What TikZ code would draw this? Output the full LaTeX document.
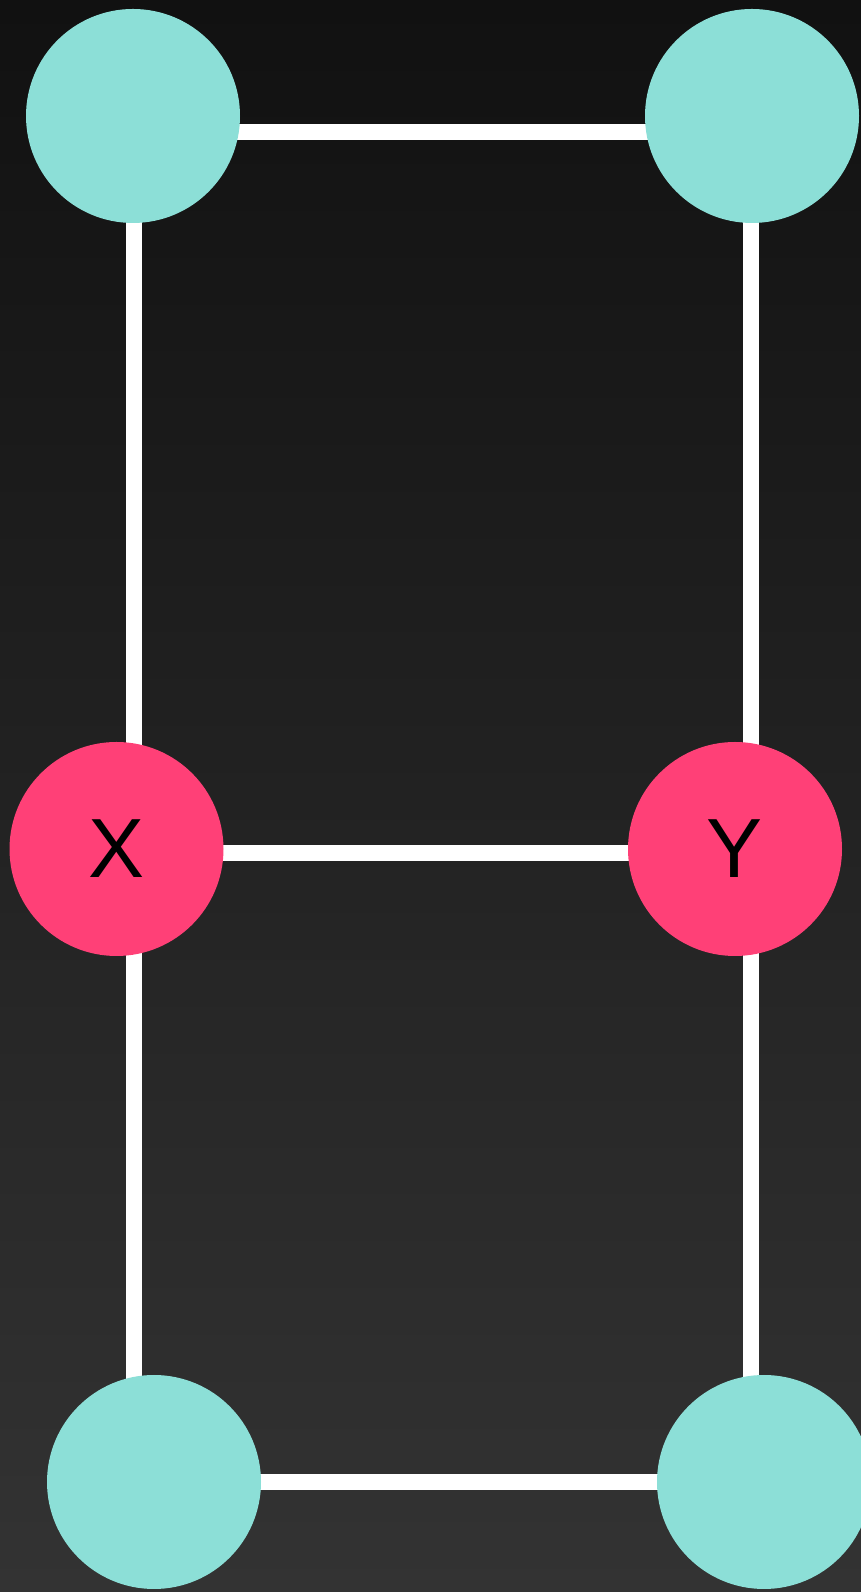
\documentclass[tikz,border=0pt]{standalone}
\usepackage{fontspec}
\setmainfont{Liberation Sans}
\definecolor{bgtop}{HTML}{111111}
\definecolor{bgbottom}{HTML}{333333}
\definecolor{mint}{HTML}{8CDFD7}
\definecolor{rose}{HTML}{FF4077}
\tikzset{
	vertex/.style={circle,minimum size=214pt,inner sep=0pt,fill=mint},
	marked/.style={vertex,fill=rose,font=\fontsize{84}{84}\selectfont},
	rung/.style={draw=white,line width=16pt}
}
\begin{document}
\begin{tikzpicture}[x=1pt,y=1pt]
				\useasboundingbox (0,0) rectangle (861,1592);
				\shade[top color=bgtop,bottom color=bgbottom] (0,0) rectangle (861,1592);
				% ladder corners
				\coordinate (lt) at (134,1460);
				\coordinate (rt) at (751,1460);
				\coordinate (lm) at (134,738.5);
				\coordinate (rm) at (751,738.5);
				\coordinate (lb) at (134,109.5);
				\coordinate (rb) at (751,109.5);
				\draw[rung] (lt) -- (rt);
				\draw[rung] (lm) -- (rm);
				\draw[rung] (lb) -- (rb);
				\draw[rung] (lt) -- (lb);
				\draw[rung] (rt) -- (rb);
				% vertices
				\node[vertex] (a) at (133,1476) {};
				\node[vertex] (b) at (752,1476) {};
				\node[marked] (x) at (116.5,743) {X};
				\node[marked] (y) at (735,743) {Y};
				\node[vertex] (c) at (154,110) {};
				\node[vertex] (d) at (764,110) {};
				\end{tikzpicture}
\end{document}
